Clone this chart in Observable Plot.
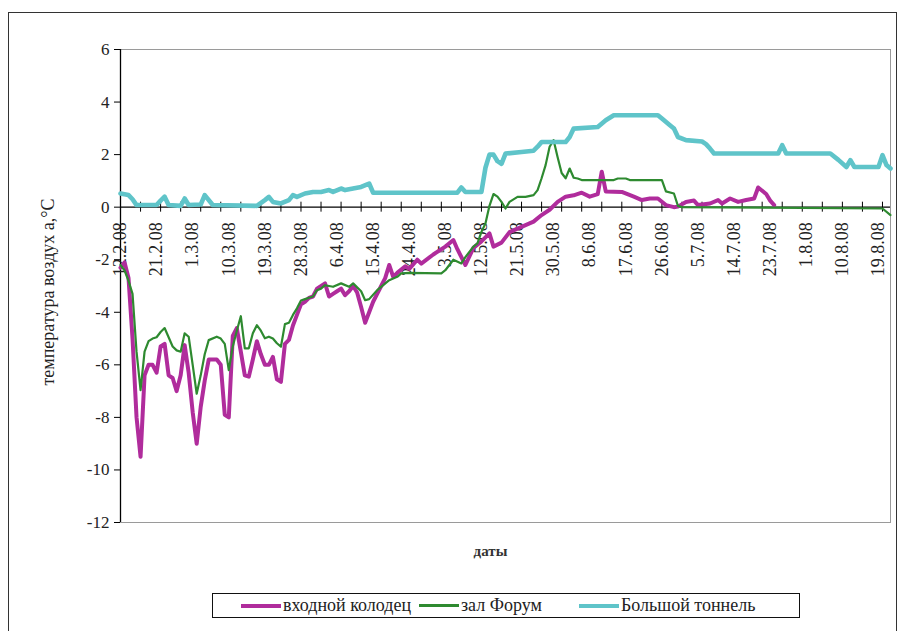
<!DOCTYPE html>
<html>
<head>
<meta charset="utf-8">
<script src="https://cdn.jsdelivr.net/npm/d3@7"></script>
<script src="https://cdn.jsdelivr.net/npm/@observablehq/plot@0.6"></script>
<style>
  body { margin: 0; background: #fff; font-family: "Liberation Serif", "Times New Roman", "DejaVu Serif", serif; }
  #wrap { position: relative; width: 904px; height: 631px; overflow: hidden; background: #fff; }
  #border { position: absolute; left: 8px; top: 12px; width: 889px; height: 640px; border: 1px solid #333; box-sizing: border-box; }
  #chart { position: absolute; left: 0; top: 0; }
  #chart svg, #chart svg text { font-family: "Liberation Serif", "Times New Roman", "DejaVu Serif", serif; }
  #legend { position: absolute; left: 212px; top: 593px; width: 588px; height: 25px; border: 1px solid #111; box-sizing: border-box;
            font-size: 18px; color: #222; }
  .item { position: absolute; top: 0; height: 23px; display: flex; align-items: center; white-space: nowrap; }
  .swatch { display: inline-block; width: 40px; margin-right: 2px; }
</style>
</head>
<body>
<div id="wrap">
  <div id="border"></div>
  <div id="chart"></div>
  <div id="legend"></div>
</div>
<script>
// Air temperature at three points of the site, Feb–Aug 2008
const yTicks = [-12, -10, -8, -6, -4, -2, 0, 2, 4, 6];
const dateLabels = ["12.2.08", "21.2.08", "1.3.08", "10.3.08", "19.3.08", "28.3.08", "6.4.08", "15.4.08",
  "24.4.08", "3.5.08", "12.5.08", "21.5.08", "30.5.08", "8.6.08", "17.6.08", "26.6.08", "5.7.08",
  "14.7.08", "23.7.08", "1.8.08", "10.8.08", "19.8.08"];
const seriesNames = ["входной колодец", "зал Форум", "Большой тоннель"];
const seriesColors = ["#b02c9c", "#2e8a30", "#5fc4c9"];

// входной колодец
const inletWell = [
  ["2008-02-12", -2.3], ["2008-02-13", -2.1], ["2008-02-14", -2.7], ["2008-02-15", -5.0], ["2008-02-16", -8.0],
  ["2008-02-17", -9.5], ["2008-02-18", -6.4], ["2008-02-19", -6.0], ["2008-02-20", -6.0], ["2008-02-21", -6.3],
  ["2008-02-22", -5.3], ["2008-02-23", -5.2], ["2008-02-24", -6.4], ["2008-02-25", -6.5], ["2008-02-26", -7.0],
  ["2008-02-27", -6.4], ["2008-02-28", -5.25], ["2008-02-29", -6.3], ["2008-03-01", -7.8], ["2008-03-02", -9.0],
  ["2008-03-03", -7.6], ["2008-03-04", -6.6], ["2008-03-05", -5.8], ["2008-03-07", -5.8], ["2008-03-08", -6.0],
  ["2008-03-09", -7.9], ["2008-03-10", -8.0], ["2008-03-11", -4.9], ["2008-03-12", -4.6], ["2008-03-13", -5.5],
  ["2008-03-14", -6.4], ["2008-03-15", -6.45], ["2008-03-16", -5.8], ["2008-03-17", -5.1], ["2008-03-18", -5.6],
  ["2008-03-19", -6.0], ["2008-03-20", -6.0], ["2008-03-21", -5.7], ["2008-03-22", -6.55], ["2008-03-23", -6.65],
  ["2008-03-24", -5.2], ["2008-03-25", -5.05], ["2008-03-26", -4.5], ["2008-03-27", -4.1], ["2008-03-28", -3.7],
  ["2008-03-29", -3.6], ["2008-03-30", -3.45], ["2008-03-31", -3.4], ["2008-04-01", -3.1], ["2008-04-03", -2.9],
  ["2008-04-04", -3.4], ["2008-04-05", -3.3], ["2008-04-06", -3.2], ["2008-04-07", -3.1], ["2008-04-08", -3.35],
  ["2008-04-09", -3.2], ["2008-04-10", -3.0], ["2008-04-11", -3.25], ["2008-04-12", -3.8], ["2008-04-13", -4.4],
  ["2008-04-14", -4.0], ["2008-04-15", -3.6], ["2008-04-16", -3.3], ["2008-04-17", -3.0], ["2008-04-18", -2.7],
  ["2008-04-19", -2.2], ["2008-04-20", -2.65], ["2008-04-21", -2.5], ["2008-04-23", -2.25], ["2008-04-24", -2.35],
  ["2008-04-26", -2.0], ["2008-04-27", -2.15], ["2008-04-30", -1.8], ["2008-05-03", -1.5], ["2008-05-05", -1.25],
  ["2008-05-06", -1.6], ["2008-05-08", -2.2], ["2008-05-10", -1.55], ["2008-05-12", -1.3], ["2008-05-14", -1.0],
  ["2008-05-15", -1.5], ["2008-05-17", -1.35], ["2008-05-19", -0.95], ["2008-05-22", -0.75], ["2008-05-25", -0.55],
  ["2008-05-27", -0.3], ["2008-05-29", -0.1], ["2008-05-31", 0.2], ["2008-06-02", 0.4], ["2008-06-04", 0.45],
  ["2008-06-06", 0.55], ["2008-06-08", 0.4], ["2008-06-09", 0.45], ["2008-06-10", 0.5], ["2008-06-11", 1.35],
  ["2008-06-12", 0.6], ["2008-06-16", 0.58], ["2008-06-19", 0.4], ["2008-06-21", 0.27], ["2008-06-23", 0.33],
  ["2008-06-25", 0.33], ["2008-06-27", 0.08], ["2008-06-29", 0.0], ["2008-06-30", 0.02], ["2008-07-02", 0.2],
  ["2008-07-04", 0.25], ["2008-07-05", 0.08], ["2008-07-08", 0.14], ["2008-07-10", 0.27], ["2008-07-11", 0.14],
  ["2008-07-13", 0.33], ["2008-07-15", 0.2], ["2008-07-17", 0.27], ["2008-07-19", 0.33], ["2008-07-20", 0.75],
  ["2008-07-22", 0.5], ["2008-07-23", 0.25], ["2008-07-24", 0.08]
];

// зал Форум
const forumHall = [
  ["2008-02-12", -2.2], ["2008-02-13", -2.4], ["2008-02-14", -2.8], ["2008-02-15", -3.3], ["2008-02-16", -5.5],
  ["2008-02-17", -6.96], ["2008-02-18", -5.5], ["2008-02-19", -5.1], ["2008-02-20", -5.0], ["2008-02-21", -4.95],
  ["2008-02-22", -4.75], ["2008-02-23", -4.6], ["2008-02-24", -4.95], ["2008-02-25", -5.3], ["2008-02-26", -5.45],
  ["2008-02-27", -5.5], ["2008-02-28", -4.8], ["2008-02-29", -4.93], ["2008-03-01", -6.0], ["2008-03-02", -7.1],
  ["2008-03-03", -6.4], ["2008-03-04", -5.6], ["2008-03-05", -5.06], ["2008-03-07", -4.93], ["2008-03-08", -5.0],
  ["2008-03-09", -5.2], ["2008-03-10", -6.2], ["2008-03-11", -5.3], ["2008-03-12", -4.7], ["2008-03-13", -4.15],
  ["2008-03-14", -5.37], ["2008-03-15", -5.37], ["2008-03-16", -4.8], ["2008-03-17", -4.49], ["2008-03-18", -4.7],
  ["2008-03-19", -4.99], ["2008-03-20", -4.93], ["2008-03-21", -5.0], ["2008-03-22", -5.18], ["2008-03-23", -5.31],
  ["2008-03-24", -4.45], ["2008-03-25", -4.4], ["2008-03-26", -4.1], ["2008-03-27", -3.85], ["2008-03-28", -3.55],
  ["2008-03-29", -3.5], ["2008-03-30", -3.45], ["2008-03-31", -3.4], ["2008-04-01", -3.16], ["2008-04-02", -3.1],
  ["2008-04-03", -2.97], ["2008-04-05", -3.03], ["2008-04-07", -2.9], ["2008-04-09", -3.03], ["2008-04-10", -2.9],
  ["2008-04-12", -3.2], ["2008-04-13", -3.54], ["2008-04-14", -3.5], ["2008-04-16", -3.16], ["2008-04-17", -3.03],
  ["2008-04-19", -2.78], ["2008-04-21", -2.65], ["2008-04-22", -2.52], ["2008-04-24", -2.5], ["2008-05-02", -2.52],
  ["2008-05-03", -2.4], ["2008-05-05", -2.0], ["2008-05-07", -2.14], ["2008-05-08", -1.9], ["2008-05-10", -1.5],
  ["2008-05-11", -1.38], ["2008-05-12", -0.94], ["2008-05-13", -0.62], ["2008-05-14", 0.05], ["2008-05-15", 0.5],
  ["2008-05-16", 0.4], ["2008-05-17", 0.2], ["2008-05-18", -0.05], ["2008-05-19", 0.2], ["2008-05-21", 0.39],
  ["2008-05-23", 0.39], ["2008-05-25", 0.46], ["2008-05-26", 0.65], ["2008-05-27", 1.1], ["2008-05-28", 1.6],
  ["2008-05-29", 2.3], ["2008-05-30", 2.55], ["2008-05-31", 1.9], ["2008-06-01", 1.3], ["2008-06-02", 1.1],
  ["2008-06-03", 1.47], ["2008-06-04", 1.12], ["2008-06-05", 1.09], ["2008-06-06", 1.03], ["2008-06-14", 1.03],
  ["2008-06-15", 1.09], ["2008-06-17", 1.09], ["2008-06-18", 1.03], ["2008-06-26", 1.03], ["2008-06-27", 0.6],
  ["2008-06-29", 0.52], ["2008-06-30", 0.05], ["2008-07-01", 0.0], ["2008-08-20", -0.05], ["2008-08-22", -0.3]
];

// Большой тоннель
const bigTunnel = [
  ["2008-02-12", 0.52], ["2008-02-14", 0.46], ["2008-02-15", 0.3], ["2008-02-16", 0.08], ["2008-02-21", 0.08],
  ["2008-02-22", 0.25], ["2008-02-23", 0.4], ["2008-02-24", 0.08], ["2008-02-27", 0.05], ["2008-02-28", 0.33],
  ["2008-02-29", 0.08], ["2008-03-03", 0.1], ["2008-03-04", 0.46], ["2008-03-06", 0.08], ["2008-03-17", 0.05],
  ["2008-03-19", 0.27], ["2008-03-20", 0.39], ["2008-03-21", 0.2], ["2008-03-23", 0.14], ["2008-03-25", 0.27],
  ["2008-03-26", 0.46], ["2008-03-27", 0.39], ["2008-03-29", 0.52], ["2008-03-31", 0.58], ["2008-04-02", 0.58],
  ["2008-04-04", 0.65], ["2008-04-05", 0.58], ["2008-04-07", 0.71], ["2008-04-08", 0.65], ["2008-04-10", 0.71],
  ["2008-04-12", 0.77], ["2008-04-14", 0.9], ["2008-04-15", 0.55], ["2008-05-06", 0.55], ["2008-05-07", 0.75],
  ["2008-05-08", 0.58], ["2008-05-12", 0.58], ["2008-05-13", 1.5], ["2008-05-14", 2.0], ["2008-05-15", 2.0],
  ["2008-05-16", 1.75], ["2008-05-17", 1.65], ["2008-05-18", 2.04], ["2008-05-22", 2.1], ["2008-05-25", 2.15],
  ["2008-05-26", 2.3], ["2008-05-27", 2.48], ["2008-06-02", 2.48], ["2008-06-03", 2.67], ["2008-06-04", 2.99],
  ["2008-06-10", 3.05], ["2008-06-12", 3.31], ["2008-06-14", 3.5], ["2008-06-25", 3.5], ["2008-06-26", 3.37],
  ["2008-06-28", 3.12], ["2008-06-29", 2.99], ["2008-06-30", 2.67], ["2008-07-02", 2.55], ["2008-07-06", 2.5],
  ["2008-07-07", 2.4], ["2008-07-08", 2.23], ["2008-07-09", 2.04], ["2008-07-25", 2.04], ["2008-07-26", 2.36],
  ["2008-07-27", 2.04], ["2008-08-07", 2.04], ["2008-08-09", 1.8], ["2008-08-11", 1.53], ["2008-08-12", 1.79],
  ["2008-08-13", 1.53], ["2008-08-19", 1.53], ["2008-08-20", 1.98], ["2008-08-21", 1.6], ["2008-08-22", 1.47]
];

const parseLabel = s => { const [d, m, y] = s.split(".").map(Number); return new Date(Date.UTC(2000 + y, m - 1, d)); };
const toRows = (arr, name) => arr.map(([date, value]) => ({date: new Date(date), value, name}));

const series = [toRows(inletWell, seriesNames[0]), toRows(forumHall, seriesNames[1]), toRows(bigTunnel, seriesNames[2])];
const xStart = new Date("2008-02-12");
const xEnd = new Date("2008-08-22");
const labelDates = dateLabels.map(parseLabel);
const tickDates = d3.utcDay.range(xStart, d3.utcDay.offset(xEnd, 1), 1).filter((d, i) => i % 5 === 0);
const serifStack = "'Liberation Serif', 'Times New Roman', 'DejaVu Serif', serif";

const chart = Plot.plot({
  width: 904,
  height: 560,
  marginLeft: 120,
  marginRight: 14,
  marginTop: 49,
  marginBottom: 38,
  style: {fontFamily: serifStack, fontSize: "17px", color: "#222", background: "transparent"},
  x: {type: "utc", domain: [xStart, xEnd], axis: null},
  y: {domain: [-12, 6], axis: null},
  marks: [
    Plot.frame({stroke: "#9a9a9a"}),
    Plot.axisY(yTicks, {tickSize: 6, tickPadding: 5, label: null, tickFormat: d => String(d), fontSize: 17, fontFamily: serifStack, stroke: "#000"}),
    Plot.ruleX([xStart], {stroke: "#000", strokeWidth: 1.3}),
    Plot.ruleY([0], {stroke: "#000", strokeWidth: 1.3}),
    Plot.ruleX(tickDates, {x: d => d, y1: -0.19, y2: 0.19, stroke: "#000"}),
    Plot.text(labelDates, {x: d => d, y: 0, text: (d, i) => dateLabels[i], rotate: -90, textAnchor: "end", dy: 15, fontSize: 18, fontFamily: serifStack, fill: "#222"}),
    Plot.line(series[0], {x: "date", y: "value", stroke: seriesColors[0], strokeWidth: 4, strokeLinejoin: "round"}),
    Plot.line(series[1], {x: "date", y: "value", stroke: seriesColors[1], strokeWidth: 2.2, strokeLinejoin: "round"}),
    Plot.line(series[2], {x: "date", y: "value", stroke: seriesColors[2], strokeWidth: 4.6, strokeLinejoin: "round"}),
    Plot.text(["температура воздух а,°C"], {frameAnchor: "left", rotate: -90, textAnchor: "middle", lineAnchor: "middle", dx: -72, dy: 6, fontSize: 18, fontFamily: serifStack, fill: "#222"}),
    Plot.text(["даты"], {frameAnchor: "bottom", lineAnchor: "middle", dx: -15, dy: 29, fontSize: 15, fontWeight: "bold", fontFamily: serifStack, fill: "#333"})
  ]
});
document.getElementById("chart").appendChild(chart);

// legend below the plot
const legend = document.getElementById("legend");
const legendX = [28, 206, 366];
seriesNames.forEach((name, i) => {
  const item = document.createElement("div");
  item.className = "item";
  item.style.left = legendX[i] + "px";
  const sw = document.createElement("span");
  sw.className = "swatch";
  sw.style.height = (i === 1 ? 3 : 4) + "px";
  sw.style.background = seriesColors[i];
  item.appendChild(sw);
  item.appendChild(document.createTextNode(name));
  legend.appendChild(item);
});
</script>
</body>
</html>
